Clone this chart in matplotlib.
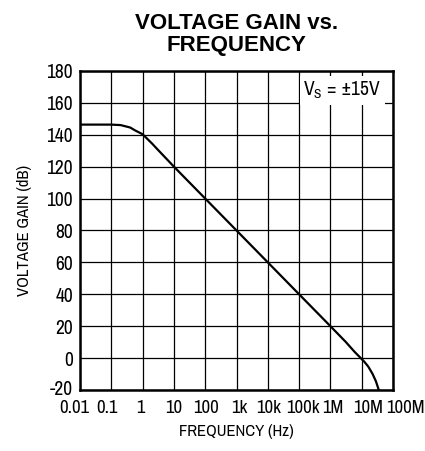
import matplotlib
matplotlib.use('Agg')
import matplotlib.pyplot as plt
from matplotlib.transforms import ScaledTranslation

# Data
freq = [0.01, 0.1, 0.2, 0.4, 0.6, 1, 2, 3, 10, 100, 1e3, 1e4, 1e5, 1e6, 3e6, 6e6, 9e6, 1.2e7, 1.6e7, 2.2e7, 2.8e7, 3.5e7]
gain = [146.3, 146.3, 146, 144.5, 142.5, 140.3, 134.5, 130.8, 120, 100, 80, 60, 40, 20, 10.4, 3.8, 0.3, -2.2, -5.2, -9.8, -14.3, -20]

xticks = [0.01, 0.1, 1, 10, 100, 1e3, 1e4, 1e5, 1e6, 1e7, 1e8]
xlabels = ['0.01', '0.1', '1', '10', '100', '1k', '10k', '100k', '1M', '10M', '100M']
yticks = list(range(-20, 181, 20))

plt.rcParams['font.family'] = ['Liberation Sans Narrow', 'Arial Narrow', 'Archivo Narrow',
                               'Liberation Sans', 'DejaVu Sans']
plt.rcParams['axes.unicode_minus'] = False

fig = plt.figure(figsize=(4.25, 4.51), dpi=100)
ax = fig.add_axes([0.188, 0.135, 0.737, 0.708])

ax.plot(freq, gain, color='black', linewidth=1.6, zorder=3)
ax.set_xscale('log')
ax.set_xlim(0.01, 1e8)
ax.set_ylim(-20, 180)
ax.set_xticks(xticks)
ax.set_xticklabels(xlabels)
ax.set_yticks(yticks)
ax.minorticks_off()
ax.tick_params(length=0, labelsize=14, pad=5)
ax.tick_params(axis='x', labelsize=13.5, pad=7)
ax.grid(True, color='black', linewidth=0.9)
for s in ax.spines.values():
    s.set_linewidth(1.8)

# nudge the crowded frequency labels the way the original is laid out
shifts = [-6, -4, -2, 0, 1, 3, 1, 4, 2, 6, 12]
for lab, dx in zip(ax.get_xticklabels(), shifts):
    lab.set_transform(lab.get_transform() + ScaledTranslation(dx / 100, 0, fig.dpi_scale_trans))
ylab0 = ax.get_yticklabels()[0]
ylab0.set_transform(ylab0.get_transform() + ScaledTranslation(0, 3 / 100, fig.dpi_scale_trans))

ax.set_xlabel('FREQUENCY (Hz)', fontsize=12, labelpad=6)
ax.set_ylabel('VOLTAGE GAIN (dB)', fontsize=12, labelpad=10)

ax.text(4.2e7, 161, r'V$_\mathregular{S}$ = ±15V', fontsize=14, ha='right', va='bottom',
        zorder=4, bbox=dict(facecolor='white', edgecolor='none', pad=2.5))

fig.text(0.557, 0.972, 'VOLTAGE GAIN vs.\nFREQUENCY', ha='center', va='top', fontsize=16,
         fontweight='bold', family=['Liberation Sans', 'DejaVu Sans'], linespacing=1.08)

fig.savefig('out.png', dpi=100)
